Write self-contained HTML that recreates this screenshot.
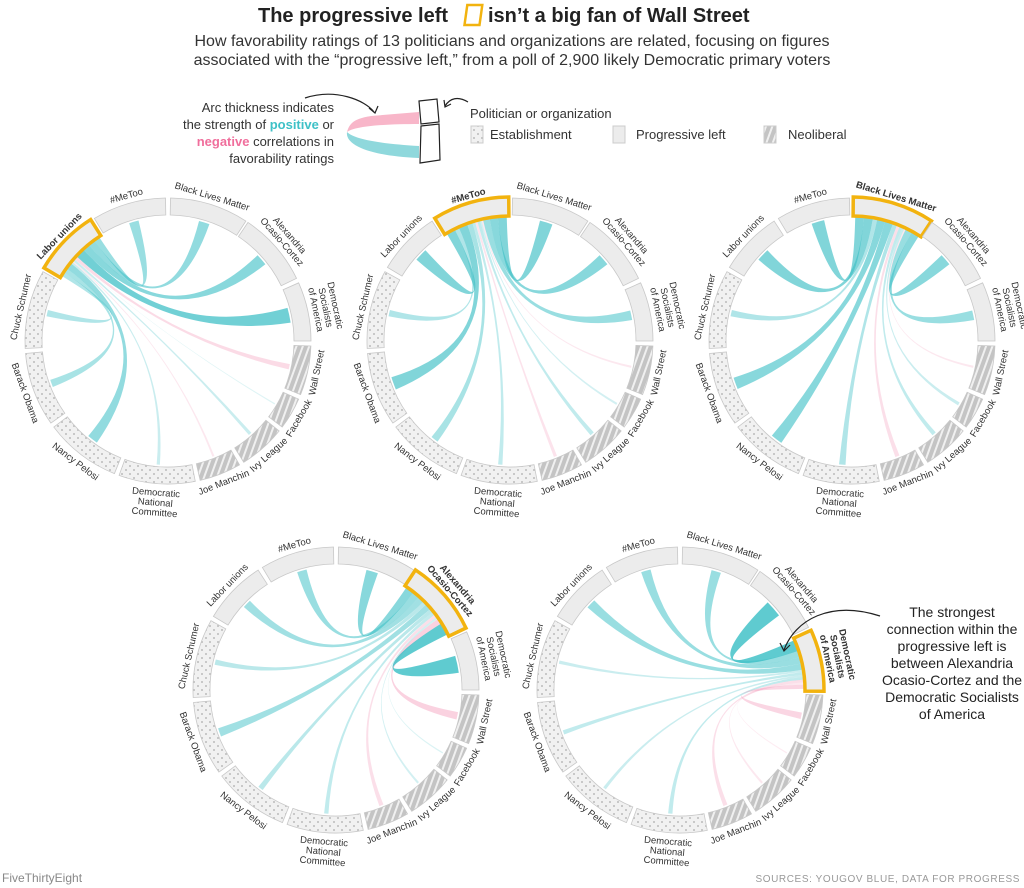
<!DOCTYPE html>
<html><head><meta charset="utf-8"><style>
body{margin:0;background:#fff;font-family:"Liberation Sans",sans-serif;}
svg{display:block}
</style></head><body>
<svg id="chart" width="1024" height="888" viewBox="0 0 1024 888" xmlns="http://www.w3.org/2000/svg" font-family="Liberation Sans, sans-serif">
<defs>
<pattern id="dots" width="8" height="8" patternUnits="userSpaceOnUse"><rect width="8" height="8" fill="#f1f1f1"/><circle cx="2" cy="2" r="1" fill="#bbb"/><circle cx="6" cy="6" r="1" fill="#bbb"/></pattern>
<pattern id="stripes" width="6" height="6" patternUnits="userSpaceOnUse" patternTransform="rotate(20)"><rect width="6" height="6" fill="#c4c4c4"/><rect width="2" height="6" fill="#f0f0f0"/></pattern>
</defs>
<g>
<text x="258" y="22" font-size="20" font-weight="bold" fill="#222">The progressive left</text>
<rect x="465" y="5" width="15" height="20" fill="none" stroke="#f2b30f" stroke-width="2.5" transform="skewX(-8) translate(3,0)"/>
<text x="488" y="22" font-size="20" font-weight="bold" fill="#222">isn’t a big fan of Wall Street</text>
</g>
<text font-size="16" fill="#333" text-anchor="middle"><tspan x="512" y="46">How favorability ratings of 13 politicians and organizations are related, focusing on figures</tspan><tspan x="512" y="65">associated with the “progressive left,” from a poll of 2,900 likely Democratic primary voters</tspan></text>
<g font-size="13" fill="#333">
<text text-anchor="end"><tspan x="334" y="112">Arc thickness indicates</tspan><tspan x="334" y="129">the strength of <tspan fill="#3ec1c7" font-weight="bold">positive</tspan> or</tspan><tspan x="334" y="146"><tspan fill="#f06e9c" font-weight="bold">negative</tspan> correlations in</tspan><tspan x="334" y="163">favorability ratings</tspan></text>
<path d="M305,98 C335,88 365,100 374,112" fill="none" stroke="#222" stroke-width="1.2"/>
<path d="M369,108 L375,113 L378,106" fill="none" stroke="#222" stroke-width="1.2"/>
<path d="M371,116 L419,112 L419,124 C385,124 355,126 347,132 C350,120 360,118 371,116Z" fill="#f8b6c9"/>
<path d="M347,132 C355,140 385,144 419,146 L419,158 C370,156 345,145 347,132Z" fill="#8fd8dc"/>
<path d="M419,101 L437,99 L439,122 L421,124 Z" fill="#fff" stroke="#222" stroke-width="1.2"/>
<path d="M421,126 L439,124 L440,160 L420,163 Z" fill="#fff" stroke="#222" stroke-width="1.2"/>
<path d="M468,102 C458,96 450,98 445,106" fill="none" stroke="#222" stroke-width="1.2"/>
<path d="M444,100 L445,107 L451,104" fill="none" stroke="#222" stroke-width="1.2"/>
<text x="470" y="118">Politician or organization</text>
<rect x="471" y="126" width="12" height="17" fill="url(#dots)" stroke="#ccc"/><text x="490" y="139">Establishment</text>
<rect x="613" y="126" width="12" height="17" fill="#ececec" stroke="#ccc"/><text x="636" y="139">Progressive left</text>
<rect x="764" y="126" width="12" height="17" fill="url(#stripes)" stroke="#ccc"/><text x="788" y="139">Neoliberal</text>
</g>
<g id="panels"></g>
<g font-size="14" fill="#222" text-anchor="middle">
<text><tspan x="952" y="617">The strongest</tspan><tspan x="952" y="634">connection within the</tspan><tspan x="952" y="651">progressive left is</tspan><tspan x="952" y="668">between Alexandria</tspan><tspan x="952" y="685">Ocasio-Cortez and the</tspan><tspan x="952" y="702">Democratic Socialists</tspan><tspan x="952" y="719">of America</tspan></text>
<path d="M880,616 C830,600 795,620 784,650" fill="none" stroke="#222" stroke-width="1.2"/>
<path d="M780,643 L784,651 L790,645" fill="none" stroke="#222" stroke-width="1.2"/>
</g>
<text x="2" y="882" font-size="12" fill="#888">FiveThirtyEight</text>
<text x="1020" y="882" font-size="10" fill="#999" text-anchor="end" letter-spacing="0.6">SOURCES: YOUGOV BLUE, DATA FOR PROGRESS</text>
</svg>
<script>
// nodes in clockwise order from top
const nodeNames = ["#MeToo","Black Lives Matter","Alexandria|Ocasio-Cortez","Democratic|Socialists|of America","Wall Street","Facebook","Ivy League","Joe Manchin","Democratic|National|Committee","Nancy Pelosi","Barack Obama","Chuck Schumer","Labor unions"];
const nodeGroups = ["prog","prog","prog","prog","neo","neo","neo","neo","est","est","est","est","prog"];
const nodeStart = [329,1,34,66,92,114,129,150,169,202,235,267,301];
const nodeEnd = [359,33,64,90,112,127,148,167,200,233,265,299,327];
const focusNodes = [12,0,1,2,3];
const corrLabor = [0.45,0.5,0.55,0.7,-0.25,0.02,0.15,-0.1,0.15,0.5,0.35,0.3,0];
const corrMeToo = [0,0.6,0.55,0.45,-0.1,0.1,0.2,-0.15,0.2,0.35,0.6,0.3,0.6];
const corrBLM = [0.6,0,0.55,0.45,-0.1,0.15,0.2,-0.2,0.3,0.55,0.55,0.3,0.6];
const corrAOC = [0.45,0.55,0,0.8,-0.35,0.05,0.1,-0.2,0.2,0.25,0.4,0.25,0.4];
const corrDSA = [0.45,0.45,0.8,0,-0.3,-0.05,-0.1,-0.2,0.2,0.15,0.2,0.15,0.45];
const panelCorr = [corrLabor,corrMeToo,corrBLM,corrAOC,corrDSA];
const centers = [[168,341],[510,341],[852,341],[336,690],[680,690]];
const RI=126, RO=143, RC=124;
const NS="http://www.w3.org/2000/svg";
function pt(cx,cy,r,a){const t=(a-90)*Math.PI/180;return [cx+r*Math.cos(t),cy+r*Math.sin(t)];}
function arcSeg(cx,cy,r1,r2,a0,a1){const p0=pt(cx,cy,r2,a0),p1=pt(cx,cy,r2,a1),p2=pt(cx,cy,r1,a1),p3=pt(cx,cy,r1,a0);const l=(a1-a0)>180?1:0;
return `M${p0}A${r2},${r2} 0 ${l} 1 ${p1}L${p2}A${r1},${r1} 0 ${l} 0 ${p3}Z`;}
const root=document.getElementById('panels');
panelCorr.forEach((corr,pi)=>{
 const [cx,cy]=centers[pi]; const f=focusNodes[pi];
 const g=document.createElementNS(NS,'g');
 
 
 root.appendChild(g);
 const order=[];for(let k=1;k<13;k++){order.push((f+13-k)%13);}
 const tot=order.reduce((s,i)=>s+Math.abs(corr[i]),0);
 let sa=nodeStart[f]+0.5; const span=nodeEnd[f]-nodeStart[f]-1;
 order.forEach(i=>{
  const w=corr[i]; const aw=Math.abs(w);
  const s0=sa, s1=sa+span*aw/tot; sa=s1;
  if(aw<0.01) return;
  const mid=(nodeStart[i]+nodeEnd[i])/2, tw=Math.max(0.6,aw*10);
  const t0=mid-tw/2,t1=mid+tw/2;
  const A0=pt(cx,cy,RC,s0),A1=pt(cx,cy,RC,s1),B0=pt(cx,cy,RC,t0),B1=pt(cx,cy,RC,t1);
  const p=document.createElementNS(NS,'path');
  p.setAttribute('d',`M${A0}A${RC},${RC} 0 0 1 ${A1}Q${cx},${cy} ${B0}A${RC},${RC} 0 0 1 ${B1}Q${cx},${cy} ${A0}Z`);
  p.setAttribute('fill',w>0?'#3fc0c6':'#f49bbb');
  p.setAttribute('fill-opacity',(0.15+0.85*aw).toFixed(2));
  
  
  g.appendChild(p);
 });
 nodeNames.forEach((nm,i)=>{
  const a0=nodeStart[i],a1=nodeEnd[i];
  const s=document.createElementNS(NS,'path');
  s.setAttribute('d',arcSeg(cx,cy,RI,RO,a0,a1));
  const gr=nodeGroups[i];
  s.setAttribute('fill',gr==='est'?'url(#dots)':gr==='neo'?'url(#stripes)':'#ececec');
  s.setAttribute('stroke','#c8c8c8');s.setAttribute('stroke-width','0.8');
  
  
  g.appendChild(s);
  if(i===f){const h=document.createElementNS(NS,'path');
   h.setAttribute('d',arcSeg(cx,cy,RI-1,RO+1,a0-0.5,a1+0.5));
   h.setAttribute('fill','none');h.setAttribute('stroke','#f2b30f');h.setAttribute('stroke-width','3.5');
   
   
   g.appendChild(h);}
  const mid=(a0+a1)/2; const lines=nm.split('|');
  const t=document.createElementNS(NS,'text');
  
  
  t.setAttribute('font-size','9.5');t.setAttribute('fill','#333');t.setAttribute('text-anchor','middle');
  if(i===f)t.setAttribute('font-weight','bold');
  const top=(mid<90||mid>270);
  const n=lines.length;
  lines.forEach((ln,k)=>{const ts=document.createElementNS(NS,'tspan');ts.setAttribute('x',0);
   const y=top?-(RO+5+(n-1-k)*10):(RO+12+k*10);ts.setAttribute('y',y);ts.textContent=ln;t.appendChild(ts);});
  t.setAttribute('transform',`translate(${cx},${cy}) rotate(${top?mid:mid-180})`);
  g.appendChild(t);
 });
});
</script>
</body></html>
